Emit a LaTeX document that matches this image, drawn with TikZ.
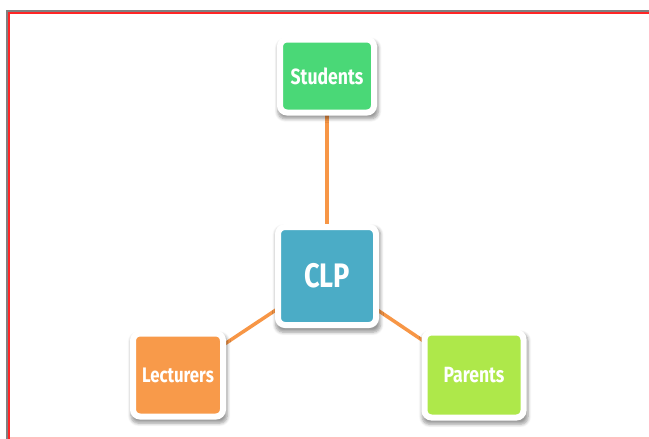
\documentclass[tikz,border=0pt]{standalone}
\usepackage{fontspec}
\newfontfamily\boxfont[FakeStretch=0.8]{Fira Sans}
\usetikzlibrary{shadows.blur}
\definecolor{linkorange}{HTML}{F79646}
\definecolor{stugreen}{HTML}{4AD877}
\definecolor{clpblue}{HTML}{4BACC6}
\definecolor{lecorange}{HTML}{F89A4A}
\definecolor{parlime}{HTML}{AEE84A}
\tikzset{>=stealth,
  card/.style={rounded corners=7pt, draw=white, line width=6pt, text=white,
    blur shadow={shadow xshift=1pt, shadow yshift=-3.5pt, shadow scale=1.07,
      shadow blur steps=6, shadow blur radius=3pt, shadow opacity=40},
    inner sep=0pt, font=\boxfont\bfseries},
  link/.style={linkorange, line width=3.5pt}}

\begin{document}
\begin{tikzpicture}[x=1pt, y=-1pt]
    \useasboundingbox (0,0) rectangle (649,439);
    % frame
    \draw[gray, line width=2pt] (7,439) -- (7,11) -- (649,11);
    \draw[red!85, line width=1.5pt] (9,439) -- (9,13) -- (649,13);
    \draw[red!25, line width=1.5pt] (10,438) -- (649,438);
    % links first, boxes over them
    \coordinate (c) at (327,276);
    \draw[link] (c) -- (327,76) coordinate (s);
    \draw[link] (c) -- (178,375) coordinate (l);
    \draw[link] (c) -- (474,375) coordinate (p);
    \node[card, fill=stugreen, minimum width=94pt, minimum height=73pt,
          font=\boxfont\bfseries\fontsize{22}{22}\selectfont] (stud) at (s) {Students};
    \node[card, fill=clpblue, minimum width=98pt, minimum height=98pt,
          font=\boxfont\bfseries\fontsize{34}{34}\selectfont] (clp) at (c) {CLP};
    \node[card, fill=lecorange, minimum width=90pt, minimum height=83pt,
          font=\boxfont\bfseries\fontsize{21}{21}\selectfont] (lect) at (l) {Lecturers};
    \node[card, fill=parlime, minimum width=99pt, minimum height=85pt,
          font=\boxfont\bfseries\fontsize{22}{22}\selectfont] (par) at (p) {Parents};
\end{tikzpicture}
\end{document}
